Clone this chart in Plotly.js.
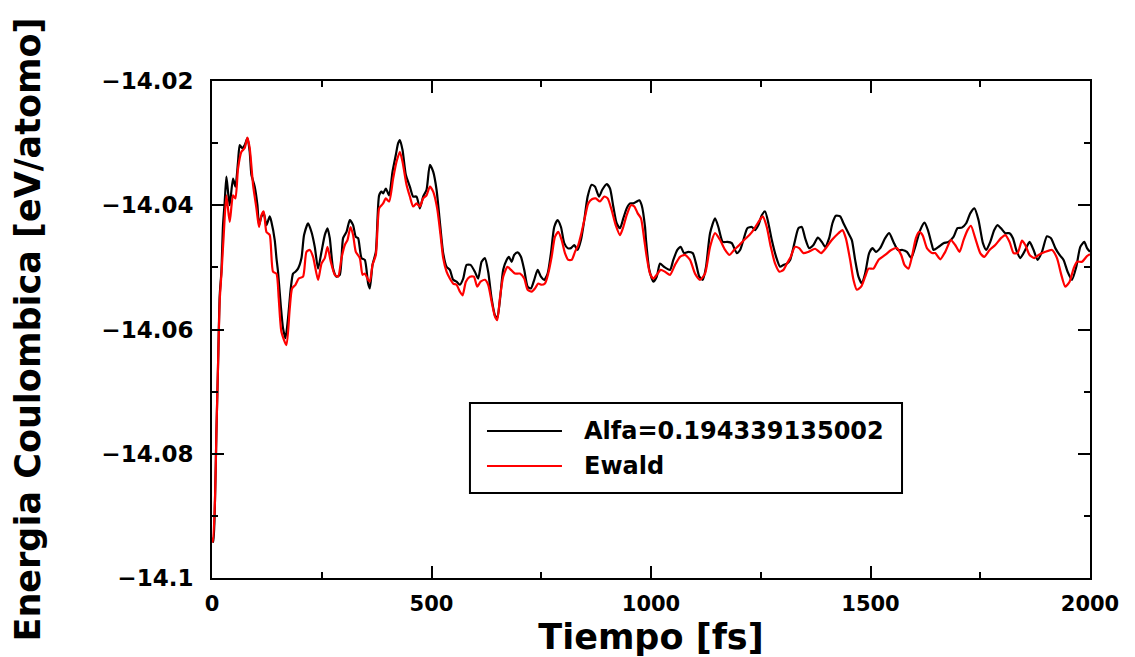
<!DOCTYPE html>
<html>
<head>
<meta charset="utf-8">
<script src="https://cdn.plot.ly/plotly-3.0.1.min.js"></script>
<style>
  html, body { margin: 0; padding: 0; background: #ffffff; }
  #chart { width: 1135px; height: 657px; }
</style>
</head>
<body>
<div id="chart"></div>
<script>
// ---- Data ----
const seriesNames = ["Alfa=0.194339135002", "Ewald"];

const tAlfa = [0,3,6.8,10,13.7,17.6,21.4,25.1,29,32.8,36.5,40.3,47.9,53.3,59.3,63.1,68.4,74.5,80.7,85.9,89.8,97.3,103.5,107.1,112.6,117.9,124,131.5,135.4,142.9,146.8,150.4,156.6,161.8,167.3,173.2,179.4,184.6,190.1,196,203.8,209.7,218.8,226.6,234.1,241.6,249.4,256.9,263.1,268.3,275.8,283.6,291.1,298.6,306.4,313.9,321.4,327.6,332.8,340.6,348.1,355.6,359.5,365.6,373.2,380.7,386.2,389.8,396,403.5,411.2,418.7,424,427.9,434,441.5,450.7,458.2,465.9,473.5,481,488.7,496.3,503.8,511.5,519.1,526.6,534.3,541.8,549.4,557.1,564.6,572.2,579.9,589,598.8,606.3,614.1,621.6,629.1,636.9,644.4,649.7,655.8,663.3,671.1,676.3,682.5,688.4,696.2,703.7,711.2,719,726.5,734,741.8,749.3,756.8,764.5,772.1,779.6,787.3,794.9,802.4,810.1,817.7,825.2,832.9,840.4,848,855.7,864.8,872.4,881.5,889,899,906.6,914.1,921.8,929.4,936.9,944.6,952.2,959.7,967.4,973.4,978.8,986.4,988.6,996.1,1005.3,1013,1020.5,1029.6,1043.3,1050.8,1060,1067.7,1075.2,1085,1095.1,1102.6,1110.1,1117.9,1125.4,1134.5,1145.9,1153.4,1163.4,1173.9,1184,1195.4,1202.9,1210.4,1219.5,1229.6,1237.1,1244.6,1252.4,1259.9,1267.4,1275.2,1285,1294.1,1301.6,1309.4,1316.9,1326.7,1335.8,1343.5,1351.1,1360.2,1370,1380,1389.1,1396.7,1405.8,1413.3,1421.1,1430.9,1438.4,1449.8,1457.5,1465,1472.6,1480.3,1487.8,1496.9,1504.5,1512.2,1522,1533.4,1542.5,1552.3,1562.4,1572.9,1582.9,1592.7,1601.8,1613.2,1623,1630.8,1639.9,1643.5,1654.9,1666.3,1677.7,1689.1,1698.2,1708.2,1718,1727.2,1736.9,1746.1,1756.1,1763.7,1772.8,1781.9,1789.4,1797.2,1807,1816.8,1824.5,1832.1,1841.2,1850.3,1862.4,1871.5,1880.6,1890.6,1902,1911.1,1921,1930.7,1939.8,1949,1959,1968.8,1977.9,1987,1993.2,2000];
const eAlfa = [-14.0939,-14.0942,-14.0875,-14.0767,-14.0660,-14.0545,-14.0507,-14.0432,-14.0394,-14.0354,-14.0378,-14.0400,-14.0357,-14.0370,-14.0330,-14.0303,-14.0308,-14.0303,-14.0292,-14.0314,-14.0351,-14.0370,-14.0400,-14.0432,-14.0418,-14.0413,-14.0432,-14.0418,-14.0427,-14.0456,-14.0485,-14.0507,-14.0561,-14.0598,-14.0614,-14.0582,-14.0534,-14.0510,-14.0507,-14.0502,-14.0485,-14.0448,-14.0429,-14.0443,-14.0467,-14.0502,-14.0475,-14.0448,-14.0437,-14.0453,-14.0502,-14.0515,-14.0512,-14.0453,-14.0443,-14.0424,-14.0432,-14.0451,-14.0453,-14.0485,-14.0488,-14.0526,-14.0534,-14.0496,-14.0475,-14.0384,-14.0378,-14.0381,-14.0373,-14.0384,-14.0346,-14.0319,-14.0300,-14.0295,-14.0311,-14.0351,-14.0370,-14.0386,-14.0386,-14.0405,-14.0386,-14.0375,-14.0335,-14.0346,-14.0375,-14.0427,-14.0477,-14.0499,-14.0504,-14.0520,-14.0523,-14.0528,-14.0518,-14.0496,-14.0496,-14.0507,-14.0518,-14.0491,-14.0485,-14.0507,-14.0550,-14.0577,-14.0582,-14.0553,-14.0504,-14.0488,-14.0483,-14.0491,-14.0480,-14.0476,-14.0483,-14.0504,-14.0531,-14.0534,-14.0520,-14.0504,-14.0515,-14.0520,-14.0510,-14.0477,-14.0435,-14.0424,-14.0435,-14.0461,-14.0469,-14.0469,-14.0464,-14.0472,-14.0456,-14.0424,-14.0386,-14.0367,-14.0370,-14.0386,-14.0375,-14.0366,-14.0373,-14.0402,-14.0429,-14.0437,-14.0421,-14.0405,-14.0397,-14.0397,-14.0394,-14.0392,-14.0400,-14.0435,-14.0456,-14.0504,-14.0523,-14.0515,-14.0494,-14.0499,-14.0504,-14.0488,-14.0472,-14.0467,-14.0477,-14.0475,-14.0477,-14.0494,-14.0515,-14.0520,-14.0499,-14.0445,-14.0421,-14.0435,-14.0459,-14.0459,-14.0461,-14.0477,-14.0472,-14.0456,-14.0437,-14.0435,-14.0440,-14.0432,-14.0416,-14.0410,-14.0429,-14.0456,-14.0483,-14.0499,-14.0496,-14.0494,-14.0488,-14.0461,-14.0437,-14.0435,-14.0453,-14.0469,-14.0464,-14.0452,-14.0459,-14.0467,-14.0453,-14.0429,-14.0417,-14.0418,-14.0429,-14.0445,-14.0456,-14.0488,-14.0515,-14.0526,-14.0510,-14.0477,-14.0469,-14.0475,-14.0469,-14.0453,-14.0445,-14.0459,-14.0472,-14.0472,-14.0475,-14.0485,-14.0467,-14.0440,-14.0428,-14.0440,-14.0464,-14.0472,-14.0467,-14.0461,-14.0459,-14.0451,-14.0437,-14.0436,-14.0429,-14.0413,-14.0405,-14.0424,-14.0461,-14.0472,-14.0459,-14.0440,-14.0432,-14.0437,-14.0445,-14.0445,-14.0453,-14.0472,-14.0485,-14.0475,-14.0459,-14.0472,-14.0488,-14.0475,-14.0450,-14.0453,-14.0469,-14.0480,-14.0488,-14.0507,-14.0520,-14.0499,-14.0467,-14.0459,-14.0469,-14.0475];

const tEwald = [0,2.3,6.8,10,13.7,17.6,22.1,26.7,32.8,40.3,47.9,53.3,59.3,67,74.5,80.7,85.9,93.5,101.2,107.1,112.6,117.9,124,131.5,139,146.8,152,158.2,169.6,177.1,182.4,190.1,197.6,207.4,215.2,222.7,230.2,241.6,249.4,256.9,263.1,270.6,279.7,287.2,295,302.5,308.6,315.5,321.4,327.6,336.7,342.9,348.1,355.6,359.5,365.6,373.2,380.7,386.2,389.8,396,403.5,412.6,420.3,427.9,434,443.1,450.7,458.2,465.9,473.5,481,488.7,496.3,503.8,512.9,520.6,526.6,534.3,541.8,549.4,557.1,564.6,570.8,578.3,587.4,596.5,604.1,611.8,621.6,629.1,636.9,644.4,649.7,655.8,663.3,673.3,680.9,690,701.4,711.2,719,728.1,735.6,743.1,750.9,758.4,765.9,773.7,781.2,788.7,796.5,804,811.5,819.3,826.8,834.3,842.1,849.6,857.1,866.2,874,883.8,893.6,901.3,910.4,919.6,929.4,936.9,944.6,954.4,962,969.7,977.2,984.8,990.2,997.7,1005.3,1013,1022.1,1031.9,1043.3,1054.7,1066.1,1077.5,1088.9,1100.3,1111.7,1123.1,1134.5,1145.9,1157.4,1168.8,1178.5,1189.2,1201.3,1212,1224.1,1233.2,1244.6,1254.6,1263.7,1272.9,1282.7,1292.5,1301.6,1309.4,1316.9,1328.3,1337.4,1347.2,1358.6,1373.9,1387.5,1400.5,1411.9,1427,1436.1,1443.8,1453.6,1461.2,1468.9,1478.7,1487.8,1495.4,1506.8,1518.2,1533.4,1547.1,1560.1,1569.9,1577.4,1586.5,1594.3,1603.4,1611,1618.5,1628.5,1639.9,1647.4,1658.8,1670.2,1683.2,1693,1702.8,1711.9,1721.1,1728.8,1738.6,1750,1759.1,1771.2,1784.2,1797.2,1807,1816.8,1825.9,1835,1845,1852.6,1862.4,1873.1,1882.9,1898.2,1913.4,1924.8,1933.9,1943.7,1953.5,1962.6,1970.4,1981.8,1993.2,2000];
const eEwald = [-14.0935,-14.0942,-14.0875,-14.0767,-14.0660,-14.0553,-14.0504,-14.0448,-14.0384,-14.0427,-14.0384,-14.0389,-14.0341,-14.0314,-14.0308,-14.0291,-14.0308,-14.0367,-14.0405,-14.0435,-14.0416,-14.0410,-14.0443,-14.0448,-14.0507,-14.0510,-14.0550,-14.0604,-14.0625,-14.0566,-14.0534,-14.0528,-14.0518,-14.0515,-14.0475,-14.0472,-14.0483,-14.0520,-14.0494,-14.0485,-14.0467,-14.0491,-14.0512,-14.0515,-14.0485,-14.0464,-14.0456,-14.0435,-14.0448,-14.0475,-14.0485,-14.0512,-14.0510,-14.0520,-14.0523,-14.0496,-14.0480,-14.0405,-14.0400,-14.0397,-14.0389,-14.0394,-14.0357,-14.0330,-14.0314,-14.0330,-14.0367,-14.0386,-14.0402,-14.0397,-14.0402,-14.0389,-14.0384,-14.0370,-14.0378,-14.0405,-14.0448,-14.0485,-14.0507,-14.0518,-14.0526,-14.0528,-14.0539,-14.0545,-14.0523,-14.0515,-14.0515,-14.0531,-14.0523,-14.0520,-14.0528,-14.0555,-14.0579,-14.0585,-14.0550,-14.0515,-14.0499,-14.0504,-14.0510,-14.0510,-14.0518,-14.0536,-14.0539,-14.0534,-14.0526,-14.0528,-14.0526,-14.0510,-14.0483,-14.0451,-14.0443,-14.0456,-14.0477,-14.0488,-14.0488,-14.0475,-14.0464,-14.0443,-14.0419,-14.0397,-14.0390,-14.0389,-14.0394,-14.0386,-14.0389,-14.0408,-14.0432,-14.0448,-14.0435,-14.0416,-14.0400,-14.0402,-14.0413,-14.0421,-14.0456,-14.0483,-14.0510,-14.0518,-14.0512,-14.0504,-14.0507,-14.0512,-14.0496,-14.0483,-14.0480,-14.0488,-14.0510,-14.0520,-14.0510,-14.0467,-14.0445,-14.0456,-14.0472,-14.0480,-14.0472,-14.0464,-14.0456,-14.0448,-14.0440,-14.0427,-14.0418,-14.0435,-14.0467,-14.0494,-14.0507,-14.0504,-14.0494,-14.0485,-14.0467,-14.0469,-14.0477,-14.0475,-14.0470,-14.0477,-14.0467,-14.0456,-14.0445,-14.0440,-14.0453,-14.0488,-14.0520,-14.0536,-14.0531,-14.0515,-14.0502,-14.0502,-14.0488,-14.0480,-14.0472,-14.0469,-14.0480,-14.0496,-14.0502,-14.0483,-14.0453,-14.0443,-14.0448,-14.0469,-14.0477,-14.0477,-14.0487,-14.0475,-14.0456,-14.0464,-14.0475,-14.0456,-14.0440,-14.0433,-14.0453,-14.0477,-14.0483,-14.0472,-14.0464,-14.0453,-14.0448,-14.0459,-14.0477,-14.0477,-14.0457,-14.0464,-14.0480,-14.0485,-14.0480,-14.0475,-14.0472,-14.0485,-14.0510,-14.0531,-14.0523,-14.0502,-14.0491,-14.0491,-14.0482,-14.0479];

const xTickVals = [0, 500, 1000, 1500, 2000];
const xTickText = ["0", "500", "1000", "1500", "2000"];
const yTickVals = [-14.1, -14.08, -14.06, -14.04, -14.02];
const yTickText = ["\u221214.1", "\u221214.08", "\u221214.06", "\u221214.04", "\u221214.02"];

const xTitle = "Tiempo [fs]";
const yTitle = "Energia Coulombica [eV/atomo]";

// ---- Plot ----
const FONT = "DejaVu Sans, Liberation Sans, Arial, sans-serif";
const colors = ["#000000", "#ff0000"];

const traces = [
  { x: tAlfa, y: eAlfa, name: seriesNames[0], type: "scatter", mode: "lines",
    line: { color: colors[0], width: 2.2, shape: "spline", smoothing: 0.6 }, showlegend: false },
  { x: tEwald, y: eEwald, name: seriesNames[1], type: "scatter", mode: "lines",
    line: { color: colors[1], width: 2.2, shape: "spline", smoothing: 0.6 }, showlegend: false }
];

// custom legend box (paper coordinates)
const lgX0 = 0.2938, lgX1 = 0.7859, lgY0 = 0.171, lgY1 = 0.3521;
const lgRows = [0.2958, 0.2254];
const shapes = [
  { type: "rect", xref: "paper", yref: "paper", x0: lgX0, x1: lgX1, y0: lgY0, y1: lgY1,
    line: { color: "#000", width: 2 }, fillcolor: "#ffffff", layer: "above" }
];
const annotations = [];
seriesNames.forEach((nm, i) => {
  shapes.push({ type: "line", xref: "paper", yref: "paper", x0: 0.3132, x1: 0.3986,
    y0: lgRows[i], y1: lgRows[i], line: { color: colors[i], width: 2 }, layer: "above" });
  annotations.push({ xref: "paper", yref: "paper", x: 0.4214, y: lgRows[i], xanchor: "left",
    yanchor: "middle", text: nm, showarrow: false,
    font: { family: FONT, size: 24, color: "#000", weight: 700 } });
});

const axisCommon = {
  showline: true, linecolor: "#000", linewidth: 2, mirror: "ticks",
  ticks: "inside", ticklen: 12, tickwidth: 2, tickcolor: "#000",
  showgrid: false, zeroline: false
};

const layout = {
  width: 1135, height: 657,
  paper_bgcolor: "#ffffff", plot_bgcolor: "#ffffff",
  margin: { l: 212, r: 45, t: 81, b: 79 },
  showlegend: false,
  xaxis: Object.assign({}, axisCommon, {
    range: [0, 2000], tickmode: "array", tickvals: xTickVals, ticktext: xTickText,
    tickfont: { family: FONT, size: 21, color: "#000", weight: 700 },
    ticklabelstandoff: 6,
    minor: { dtick: 250, tick0: 0, ticks: "inside", ticklen: 6, tickwidth: 2, tickcolor: "#000", showgrid: false },
    title: { text: xTitle, standoff: 12, font: { family: FONT, size: 35, color: "#000", weight: 700 } }
  }),
  yaxis: Object.assign({}, axisCommon, {
    range: [-14.1, -14.02], tickmode: "array", tickvals: yTickVals, ticktext: yTickText,
    tickfont: { family: FONT, size: 23, color: "#000", weight: 700 },
    ticklabelstandoff: 12,
    minor: { dtick: 0.01, tick0: -14.1, ticks: "inside", ticklen: 6, tickwidth: 2, tickcolor: "#000", showgrid: false },
    title: { text: yTitle, standoff: 50, font: { family: FONT, size: 35, color: "#000", weight: 700 } }
  }),
  shapes: shapes,
  annotations: annotations
};

Plotly.newPlot("chart", traces, layout, { displayModeBar: false, staticPlot: true });
</script>
</body>
</html>
